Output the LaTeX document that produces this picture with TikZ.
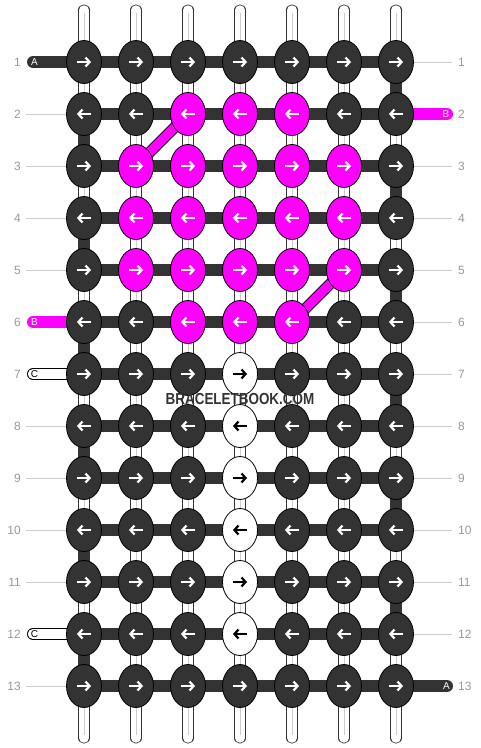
\documentclass[tikz,border=0pt]{standalone}
\usepackage{fontspec}
\setmainfont{Liberation Sans}
\usetikzlibrary{shapes.geometric,arrows.meta}
\definecolor{bbdark}{HTML}{333333}
\definecolor{bbpink}{HTML}{FF00FF}
\definecolor{bbgrey}{HTML}{999999}
\definecolor{bbline}{HTML}{CCCCCC}

\begin{document}
\begin{tikzpicture}[x=1pt,y=-1pt]
\tikzset{knot/.style={draw=black, line width=0.8pt, ellipse, minimum width=35pt, minimum height=43pt, inner sep=0pt},
 kd/.style={knot, fill=bbdark}, km/.style={knot, fill=bbpink}, kw/.style={knot, fill=white},
 ad/.style={white}, am/.style={white}, aw/.style={black},
 knotarrow/.style={line width=2.2pt, -{Straight Barb[length=4pt,width=9pt]}},
 vstring/.style={draw=bbdark, line width=0.8pt, double=white, double distance=9.5pt, line cap=round},
 vmid/.style={bbline, line width=0.8pt, shorten <=3pt, shorten >=3pt},
 hbar/.style={bbdark, line width=12pt},
 vbar/.style={bbdark, line width=11pt},
 twist/.style={draw=black, line width=0.8pt, double=bbpink, double distance=9.5pt},
 stubd/.style={bbdark, line width=12pt, line cap=round},
 stubm/.style={bbpink, line width=12pt, line cap=round},
 stubw/.style={draw=black, line width=0.8pt, double=white, double distance=10.4pt, line cap=round},
 stubtext/.style={font=\fontsize{10}{10}\selectfont, inner sep=0pt},
 guide/.style={bbline, line width=0.8pt},
 rowno/.style={font=\fontsize{12}{12}\selectfont, text=bbgrey, inner sep=0pt}}

\useasboundingbox (0,0) rectangle (480,748);

% grid of knot positions
\foreach \r in {1,...,13}
 \foreach \c in {1,...,7}
  \coordinate (p-\r-\c) at ({84+52*(\c-1)},{62+52*(\r-1)});

% base strings
\foreach \c in {1,...,7} {
 \coordinate (t-\c) at ({84+52*(\c-1)},10);
 \coordinate (b-\c) at ({84+52*(\c-1)},738);
 \draw[vstring] (t-\c) -- (b-\c);
 \draw[vmid] (t-\c) -- (b-\c);
}

% working string turning at the edges
\foreach \r in {2,4,...,12} {
 \pgfmathtruncatemacro\s{\r+1}
 \draw[vbar] (p-\r-1) -- (p-\s-1);
}
\foreach \r in {1,3,...,11} {
 \pgfmathtruncatemacro\s{\r+1}
 \draw[vbar] (p-\r-7) -- (p-\s-7);
}

% rows
\foreach \r in {1,...,13}
 \draw[hbar] (p-\r-1) -- (p-\r-7);

% crossing of the pink string
\draw[twist] (p-2-3) -- (p-3-2);
\draw[twist] (p-5-6) -- (p-6-5);

% loose ends
\coordinate (sl-1) at (33,62);
\coordinate (sl-6) at (33,322);
\coordinate (sl-7) at (33,374);
\coordinate (sl-12) at (33,634);
\coordinate (sr-2) at (447,114);
\coordinate (sr-13) at (447,686);
\draw[stubd] (sl-1) -- (p-1-1);
\draw[stubm] (sl-6) -- (p-6-1);
\draw[stubw] (sl-7) -- (p-7-1);
\draw[stubw] (sl-12) -- (p-12-1);
\draw[stubm] (p-2-7) -- (sr-2);
\draw[stubd] (p-13-7) -- (sr-13);
\node[stubtext, text=white] (ea) at ([xshift=1.5pt]sl-1) {A};
\node[stubtext, text=white] (eb) at ([xshift=1.5pt]sl-6) {B};
\node[stubtext, text=black] (ec) at ([xshift=1.5pt]sl-7) {C};
\node[stubtext, text=black] (ec2) at ([xshift=1.5pt]sl-12) {C};
\node[stubtext, text=white] (eb2) at ([xshift=-1pt]sr-2) {B};
\node[stubtext, text=white] (ea2) at ([xshift=-0.5pt]sr-13) {A};

% row numbers
\foreach \r in {2,3,4,5,8,9,10,11,13} {
 \coordinate (gl-\r) at (26,{62+52*(\r-1)});
 \draw[guide] (gl-\r) -- (p-\r-1);
}
\foreach \r in {1,3,4,5,6,7,8,9,10,11,12} {
 \coordinate (gr-\r) at (452,{62+52*(\r-1)});
 \draw[guide] (p-\r-7) -- (gr-\r);
}
\foreach \r in {1,...,13} {
 \node[rowno, anchor=east] (nl-\r) at (21,{62+52*(\r-1)}) {\r};
 \node[rowno, anchor=west] (nr-\r) at (458,{62+52*(\r-1)}) {\r};
}

% knots
\foreach \r/\row in {1/{d,d,d,d,d,d,d}, 2/{d,d,m,m,m,d,d}, 3/{d,m,m,m,m,m,d},
  4/{d,m,m,m,m,m,d}, 5/{d,m,m,m,m,m,d}, 6/{d,d,m,m,m,d,d}, 7/{d,d,d,w,d,d,d},
  8/{d,d,d,w,d,d,d}, 9/{d,d,d,w,d,d,d}, 10/{d,d,d,w,d,d,d}, 11/{d,d,d,w,d,d,d},
  12/{d,d,d,w,d,d,d}, 13/{d,d,d,d,d,d,d}} {
 \pgfmathsetmacro\dir{ifthenelse(mod(\r,2)==1,1,-1)}
 \foreach \t [count=\c] in \row {
  \node[k\t] (k-\r-\c) at (p-\r-\c) {};
  \draw[knotarrow, a\t] (k-\r-\c.center) ++({-7*\dir},0) -- ++({14*\dir},0);
 }
}

\node[font=\bfseries\fontsize{16}{16}\selectfont, text=bbdark, inner sep=0pt] (wm) at (240,399)
 {\scalebox{0.84}[1]{BRACELETBOOK.COM}};

\end{tikzpicture}
\end{document}
